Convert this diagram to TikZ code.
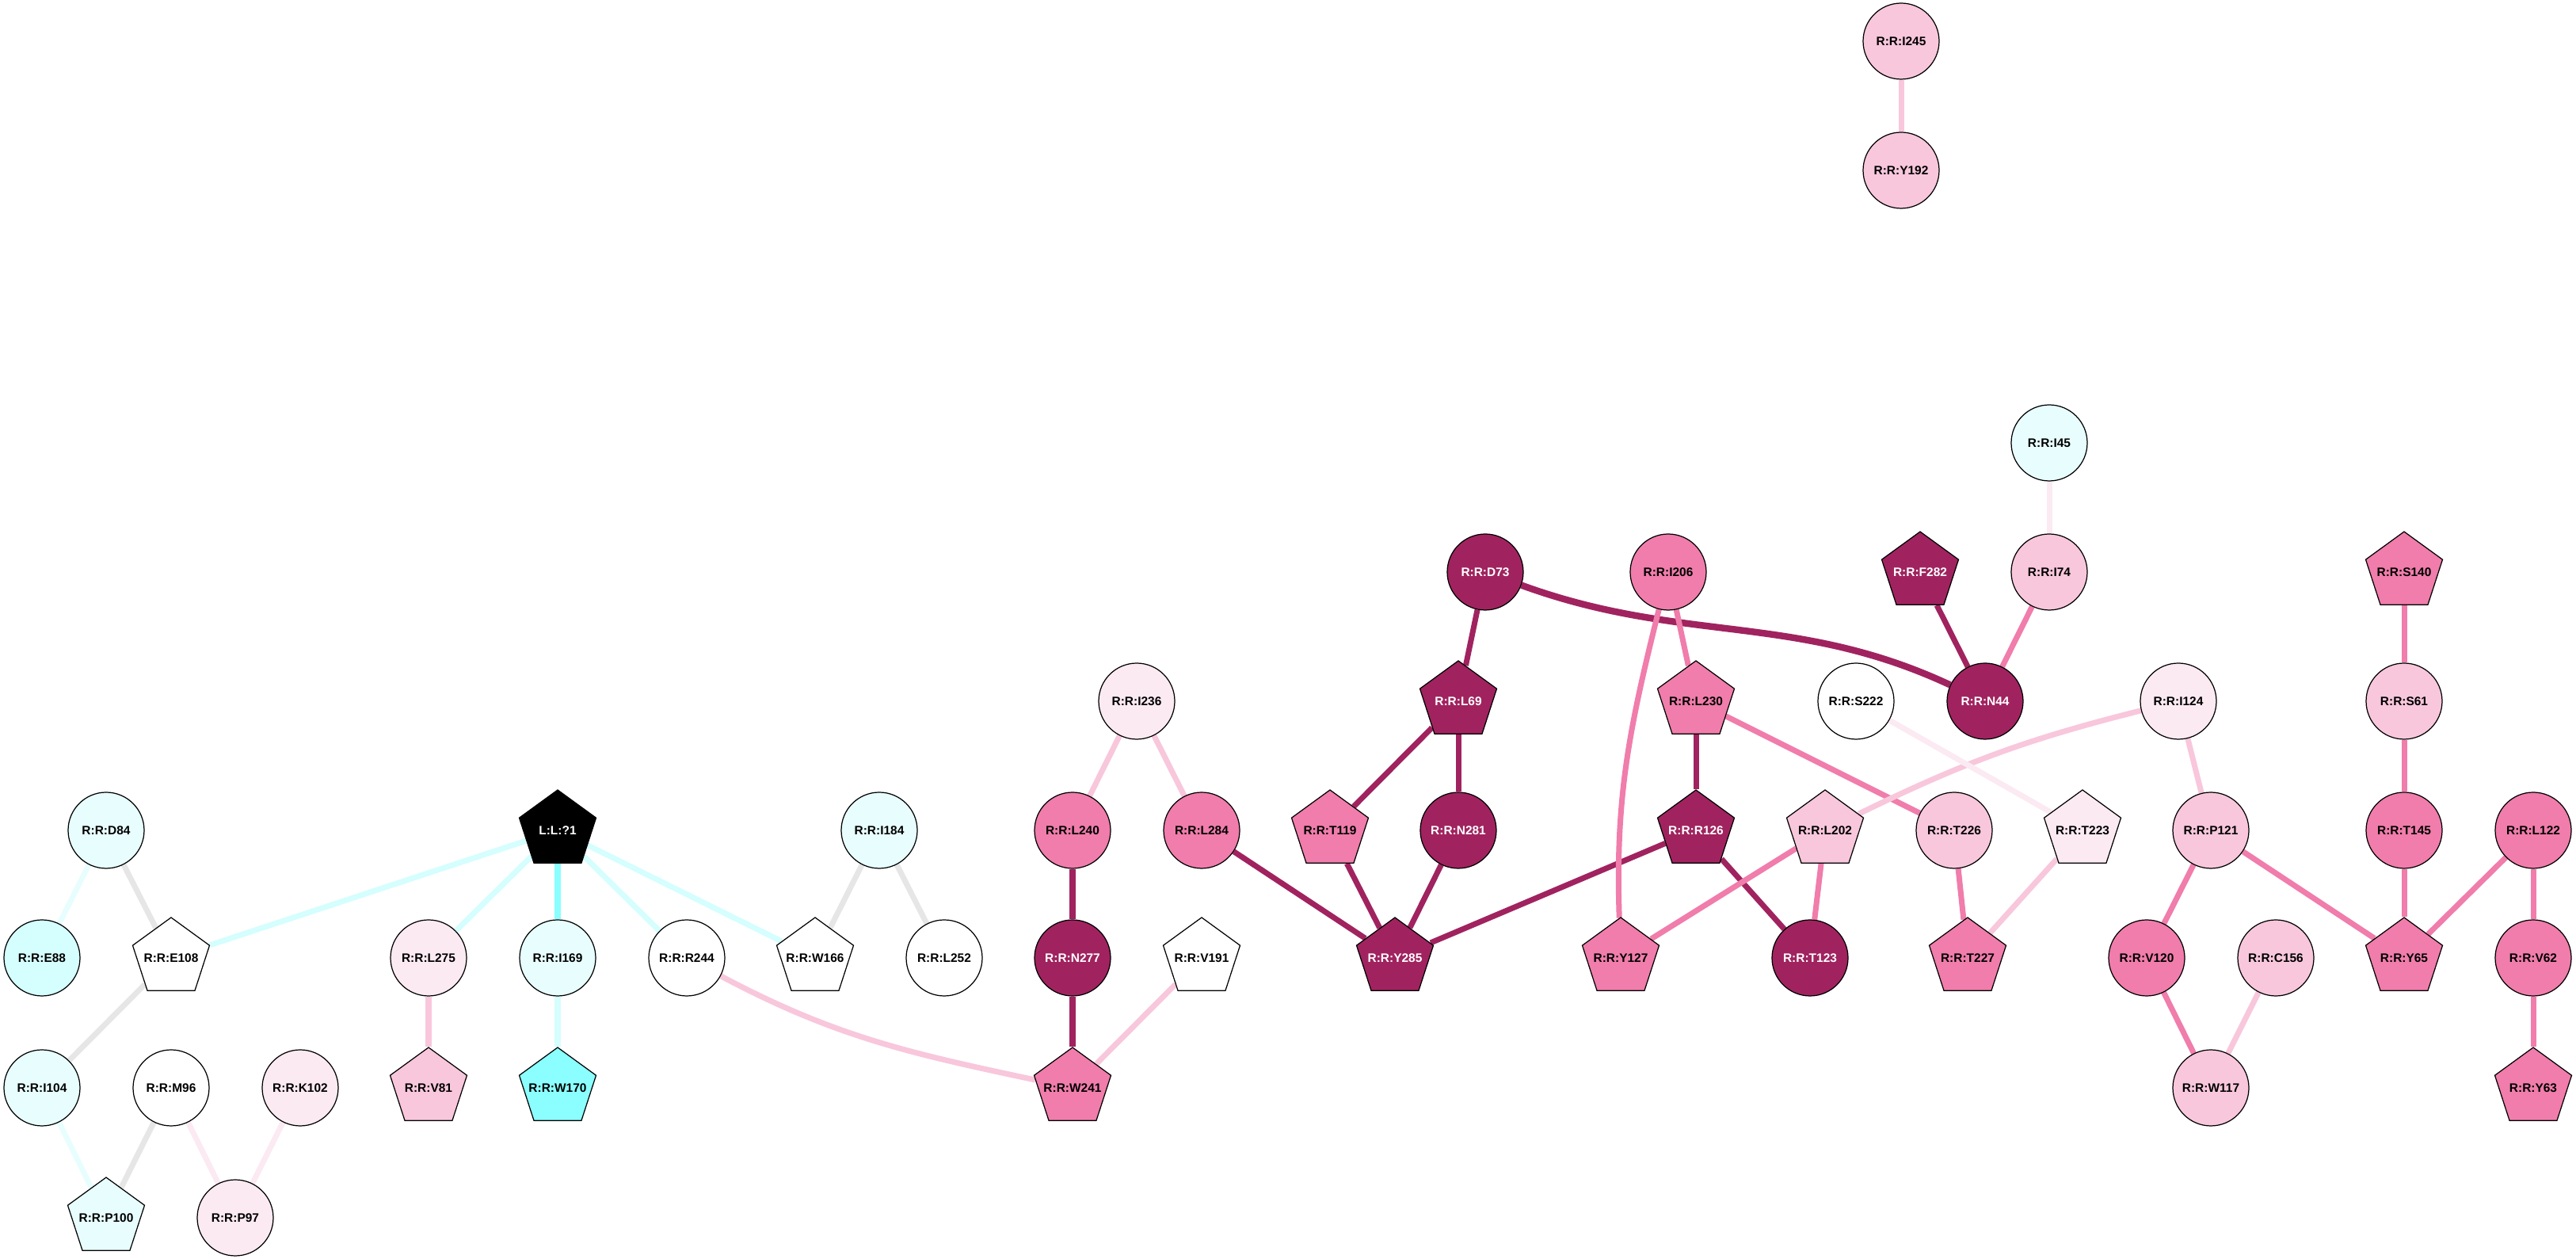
\documentclass[tikz,border=0pt]{standalone}
\usepackage{fontspec}
\setmainfont{Liberation Sans}
\usepackage{tikz}
\usetikzlibrary{shapes.geometric}
\usetikzlibrary{backgrounds}

\definecolor{darkres}{HTML}{A0235F}
\definecolor{midres}{HTML}{F07DAB}
\definecolor{lightres}{HTML}{F8C7DC}
\definecolor{paleres}{HTML}{FBEAF2}
\definecolor{palecyan}{HTML}{E8FEFE}
\definecolor{softcyan}{HTML}{D5FEFE}
\definecolor{brightcyan}{HTML}{8BFFFF}
\definecolor{greyedge}{HTML}{E6E6E6}

% texto centrado que no agranda el pentagono
\newcommand{\pentlabel}[1]{\makebox[0pt]{#1}}

\begin{document}
\begin{tikzpicture}[
    res/.style={circle, draw=black, line width=0.35pt, minimum size=0.96cm, inner sep=0pt, font=\fontsize{4.4}{5}\selectfont\bfseries},
    pent/.style={regular polygon, regular polygon sides=5, draw=black, line width=0.35pt, minimum size=1.02cm, inner sep=0pt, font=\fontsize{4.4}{5}\selectfont\bfseries},
    con/.style={line width=2pt}]
        % Marco de la figura
        \useasboundingbox (0,0) rectangle (32.52,-15.89);

        % Ligando y su entorno (izquierda)
        \node[res, fill=palecyan] (d84) at (1.34,-10.48) {R:R:D84};
        \node[res, fill=softcyan] (e88) at (0.53,-12.09) {R:R:E88};
        \node[pent, fill=white] (e108) at (2.16,-12.09) {\pentlabel{R:R:E108}};
        \node[res, fill=palecyan] (i104) at (0.53,-13.73) {R:R:I104};
        \node[res, fill=white] (m96) at (2.16,-13.73) {R:R:M96};
        \node[res, fill=paleres] (k102) at (3.79,-13.73) {R:R:K102};
        \node[pent, fill=palecyan] (p100) at (1.34,-15.37) {\pentlabel{R:R:P100}};
        \node[res, fill=paleres] (p97) at (2.97,-15.37) {R:R:P97};
        \node[pent, fill=black, text=white] (lig) at (7.04,-10.48) {\pentlabel{L:L:?1}};
        \node[res, fill=paleres] (l275) at (5.41,-12.09) {R:R:L275};
        \node[res, fill=palecyan] (i169) at (7.04,-12.09) {R:R:I169};
        \node[res, fill=white] (r244) at (8.67,-12.09) {R:R:R244};
        \node[pent, fill=white] (w166) at (10.29,-12.09) {\pentlabel{R:R:W166}};
        \node[pent, fill=lightres] (v81) at (5.41,-13.73) {\pentlabel{R:R:V81}};
        \node[pent, fill=brightcyan] (w170) at (7.04,-13.73) {\pentlabel{R:R:W170}};
        \node[res, fill=palecyan] (i184) at (11.10,-10.48) {R:R:I184};
        \node[res, fill=white] (l252) at (11.92,-12.09) {R:R:L252};

        % Bloque central
        \node[res, fill=paleres] (i236) at (14.35,-8.85) {R:R:I236};
        \node[res, fill=midres] (l240) at (13.54,-10.48) {R:R:L240};
        \node[res, fill=midres] (l284) at (15.17,-10.48) {R:R:L284};
        \node[res, fill=darkres, text=white] (n277) at (13.54,-12.09) {R:R:N277};
        \node[pent, fill=white] (v191) at (15.17,-12.09) {\pentlabel{R:R:V191}};
        \node[pent, fill=midres] (w241) at (13.54,-13.73) {\pentlabel{R:R:W241}};
        \node[res, fill=darkres, text=white] (d73) at (18.75,-7.22) {R:R:D73};
        \node[pent, fill=darkres, text=white] (l69) at (18.41,-8.85) {\pentlabel{R:R:L69}};
        \node[pent, fill=midres] (t119) at (16.79,-10.48) {\pentlabel{R:R:T119}};
        \node[res, fill=darkres, text=white] (n281) at (18.41,-10.48) {R:R:N281};
        \node[pent, fill=darkres, text=white] (y285) at (17.61,-12.09) {\pentlabel{R:R:Y285}};
        \node[res, fill=midres] (i206) at (21.06,-7.22) {R:R:I206};
        \node[pent, fill=midres] (l230) at (21.41,-8.85) {\pentlabel{R:R:L230}};
        \node[pent, fill=darkres, text=white] (r126) at (21.41,-10.48) {\pentlabel{R:R:R126}};
        \node[pent, fill=midres] (y127) at (20.46,-12.09) {\pentlabel{R:R:Y127}};
        \node[pent, fill=lightres] (l202) at (23.04,-10.48) {\pentlabel{R:R:L202}};
        \node[res, fill=darkres, text=white] (t123) at (22.85,-12.09) {R:R:T123};

        % Bloque derecho
        \node[res, fill=palecyan] (i45) at (25.87,-5.59) {R:R:I45};
        \node[pent, fill=darkres, text=white] (f282) at (24.24,-7.22) {\pentlabel{R:R:F282}};
        \node[res, fill=lightres] (i74) at (25.87,-7.22) {R:R:I74};
        \node[res, fill=white] (s222) at (23.43,-8.85) {R:R:S222};
        \node[res, fill=darkres, text=white] (n44) at (25.06,-8.85) {R:R:N44};
        \node[res, fill=paleres] (i124) at (27.50,-8.85) {R:R:I124};
        \node[res, fill=lightres] (t226) at (24.67,-10.48) {R:R:T226};
        \node[pent, fill=paleres] (t223) at (26.29,-10.48) {\pentlabel{R:R:T223}};
        \node[pent, fill=midres] (t227) at (24.84,-12.09) {\pentlabel{R:R:T227}};
        \node[res, fill=lightres] (p121) at (27.91,-10.48) {R:R:P121};
        \node[res, fill=midres] (v120) at (27.10,-12.09) {R:R:V120};
        \node[res, fill=lightres] (c156) at (28.73,-12.09) {R:R:C156};
        \node[res, fill=lightres] (w117) at (27.91,-13.73) {R:R:W117};
        \node[pent, fill=midres] (s140) at (30.35,-7.22) {\pentlabel{R:R:S140}};
        \node[res, fill=lightres] (s61) at (30.35,-8.85) {R:R:S61};
        \node[res, fill=midres] (t145) at (30.35,-10.48) {R:R:T145};
        \node[pent, fill=midres] (y65) at (30.35,-12.09) {\pentlabel{R:R:Y65}};
        \node[res, fill=midres] (l122) at (31.98,-10.48) {R:R:L122};
        \node[res, fill=midres] (v62) at (31.98,-12.09) {R:R:V62};
        \node[pent, fill=midres] (y63) at (31.98,-13.73) {\pentlabel{R:R:Y63}};

        % Par aislado arriba
        \node[res, fill=lightres] (i245) at (24.00,-0.52) {R:R:I245};
        \node[res, fill=lightres] (y192) at (24.00,-2.15) {R:R:Y192};

        % Conexiones (debajo de los nodos)
        \begin{scope}[on background layer]
        \draw[con, palecyan] (d84) -- (e88);
        \draw[con, greyedge] (d84) -- (e108);
        \draw[con, softcyan] (lig) -- (e108);
        \draw[con, greyedge] (e108) -- (i104);
        \draw[con, palecyan] (i104) -- (p100);
        \draw[con, greyedge] (m96) -- (p100);
        \draw[con, paleres] (m96) -- (p97);
        \draw[con, paleres] (k102) -- (p97);
        \draw[con, softcyan] (lig) -- (l275);
        \draw[con, brightcyan] (lig) -- (i169);
        \draw[con, softcyan] (lig) -- (r244);
        \draw[con, softcyan] (lig) -- (w166);
        \draw[con, lightres] (l275) -- (v81);
        \draw[con, softcyan] (i169) -- (w170);
        \draw[con, lightres] (r244) to[out=-28,in=168] (w241);
        \draw[con, greyedge] (i184) -- (w166);
        \draw[con, greyedge] (i184) -- (l252);

        \draw[con, lightres] (i236) -- (l240);
        \draw[con, lightres] (i236) -- (l284);
        \draw[con, darkres] (l240) -- (n277);
        \draw[con, darkres] (n277) -- (w241);
        \draw[con, lightres] (v191) -- (w241);
        \draw[con, darkres] (l284) -- (y285);
        \draw[con, darkres] (t119) -- (y285);
        \draw[con, darkres] (n281) -- (y285);
        \draw[con, darkres] (r126) -- (y285);
        \draw[con, darkres] (l69) -- (t119);
        \draw[con, darkres] (l69) -- (n281);
        \draw[con, darkres] (d73) -- (l69);
        \draw[con, darkres, line width=2.4pt] (d73) to[out=-20,in=155] (n44);
        \draw[con, midres] (i206) -- (l230);
        \draw[con, midres] (i206) to[out=-104,in=92] (y127);
        \draw[con, darkres] (l230) -- (r126);
        \draw[con, midres] (l230) -- (t226);
        \draw[con, darkres] (r126) -- (t123);
        \draw[con, midres] (l202) -- (y127);
        \draw[con, midres] (l202) -- (t123);
        \draw[con, lightres] (l202) to[bend left=6] (i124);

        \draw[con, paleres] (i45) -- (i74);
        \draw[con, midres] (i74) -- (n44);
        \draw[con, darkres] (f282) -- (n44);
        \draw[con, paleres] (s222) -- (t223);
        \draw[con, midres] (t226) -- (t227);
        \draw[con, lightres] (t223) -- (t227);
        \draw[con, lightres] (i124) -- (p121);
        \draw[con, midres] (p121) -- (v120);
        \draw[con, midres] (p121) -- (y65);
        \draw[con, midres] (v120) -- (w117);
        \draw[con, lightres] (c156) -- (w117);
        \draw[con, midres] (s140) -- (s61);
        \draw[con, midres] (s61) -- (t145);
        \draw[con, midres] (t145) -- (y65);
        \draw[con, midres] (l122) -- (y65);
        \draw[con, midres] (l122) -- (v62);
        \draw[con, midres] (v62) -- (y63);
        \draw[con, lightres] (i245) -- (y192);
        \end{scope}
    \end{tikzpicture}
\end{document}
